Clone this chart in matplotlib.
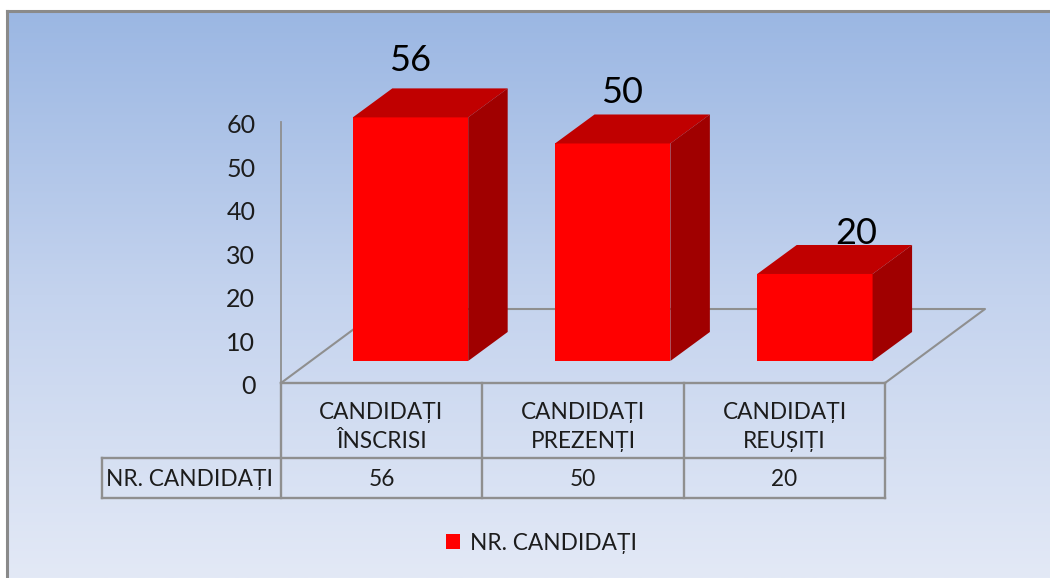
import numpy as np
import matplotlib
matplotlib.use('Agg')
import matplotlib.pyplot as plt
from matplotlib.patches import Patch, Polygon
from matplotlib.colors import LinearSegmentedColormap
from matplotlib.transforms import ScaledTranslation

categories = ['CANDIDAȚI\nÎNSCRISI', 'CANDIDAȚI\nPREZENȚI', 'CANDIDAȚI\nREUȘIȚI']
values = [56, 50, 20]
series_name = 'NR. CANDIDAȚI'
y_ticks = [0, 10, 20, 30, 40, 50, 60]

plt.rcParams['font.family'] = ['Lato', 'DejaVu Sans']
W, H = 1050, 578
GREY = '#8f8f8f'
INK = '#1c1c1c'

fig = plt.figure(figsize=(W / 100, H / 100), dpi=100, facecolor='white')

# background in pixel coordinates, table and frame go here too
bg = fig.add_axes([0, 0, 1, 1])
bg.set_xlim(0, W)
bg.set_ylim(H, 0)
bg.axis('off')
cmap = LinearSegmentedColormap.from_list('bg', ['#9bb7e3', '#c4d3ee', '#e3e9f6'])
bg.imshow(np.linspace(0, 1, 256).reshape(-1, 1), cmap=cmap, aspect='auto',
          extent=[7, W, H, 11], zorder=0)
bg.set_xlim(0, W)
bg.set_ylim(H, 0)
bg.plot([7, 7], [H, 11], color='#8a8a8a', lw=2.2, zorder=1)
bg.plot([7, W], [11, 11], color='#8a8a8a', lw=2.2, zorder=1)

# chart axes: one unit per category in x, real values in y
ax = fig.add_axes([281 / W, 1 - 383 / H, 604 / W, 261 / H])
ax.set_xlim(-0.5, 2.5)
ax.set_ylim(0, 60)
ax.patch.set_alpha(0)
for s in ['top', 'right', 'bottom']:
    ax.spines[s].set_visible(False)
ax.spines['left'].set_color(GREY)
ax.spines['left'].set_linewidth(1.3)
ax.set_xticks([])
ax.set_yticks(y_ticks)
ax.tick_params(axis='y', length=0, pad=18.5, labelsize=18, labelcolor=INK)
for lab in ax.get_yticklabels():
    lab.set_transform(lab.get_transform() + ScaledTranslation(0, -1.2 / 72, fig.dpi_scale_trans))

# depth of the 3d look, in axis units
floor_dx, floor_dy = 100 / 201.33, 74 / 4.35
bar_dx, bar_dy = 39.5 / 201.33, 29 / 4.35
bar_w = 0.573
bar_shift = 0.1432
bar_step = 1.0043
bar_base = 5.06

ax.plot([-0.5, -0.5 + floor_dx, 2.5 + floor_dx, 2.5],
        [0, floor_dy, floor_dy, 0], color=GREY, lw=1.5, clip_on=False, zorder=1)

label_offsets = [(0, 20), (7, 15.6), (30, 8)]
for i, v in enumerate(values):
    xc = i * bar_step + bar_shift
    x0 = xc - bar_w / 2
    x1 = x0 + bar_w
    top = bar_base + v
    ax.bar(xc, v, bar_w, bottom=bar_base, color='#ff0000', clip_on=False, zorder=3)
    ax.add_patch(Polygon([(x0, top), (x1, top), (x1 + bar_dx, top + bar_dy), (x0 + bar_dx, top + bar_dy)],
                         closed=True, facecolor='#c00000', edgecolor='none', clip_on=False, zorder=3))
    ax.add_patch(Polygon([(x1, bar_base), (x1 + bar_dx, bar_base + bar_dy), (x1 + bar_dx, top + bar_dy), (x1, top)],
                         closed=True, facecolor='#a00000', edgecolor='none', clip_on=False, zorder=3))
    ax.annotate(str(v), (xc, top + bar_dy), xytext=label_offsets[i], textcoords='offset points',
                ha='center', va='center', fontsize=26, color='black', annotation_clip=False, zorder=4)

# data table under the chart
col_x = [281, 482, 684, 885]
rows_y = [383, 458, 498]
for x in col_x:
    bg.plot([x, x], [rows_y[0], rows_y[2]], color=GREY, lw=1.7, zorder=2)
bg.plot([102, 102], [rows_y[1], rows_y[2]], color=GREY, lw=1.7, zorder=2)
bg.plot([281, 885], [rows_y[0], rows_y[0]], color=GREY, lw=1.7, zorder=2)
bg.plot([102, 885], [rows_y[1], rows_y[1]], color=GREY, lw=1.7, zorder=2)
bg.plot([102, 885], [rows_y[2], rows_y[2]], color=GREY, lw=1.7, zorder=2)
bg.text(189.5, 480, series_name, ha='center', va='center', fontsize=16.3, color=INK)
for i, (c, v) in enumerate(zip(categories, values)):
    cx = (col_x[i] + col_x[i + 1]) / 2
    bg.text(cx, 427, c, ha='center', va='center', fontsize=16.3, color=INK, linespacing=1.42)
    bg.text(cx, 480, str(v), ha='center', va='center', fontsize=16.3, color=INK)

handle = Patch(facecolor='#ff0000', edgecolor='none', label=series_name)
fig.legend(handles=[handle], loc='center', bbox_to_anchor=(541.5 / W, 1 - 543 / H), frameon=False,
           fontsize=16.3, labelcolor=INK, handlelength=0.62, handleheight=0.62, handletextpad=0.45)

fig.savefig('out.png', dpi=100, facecolor='white')
